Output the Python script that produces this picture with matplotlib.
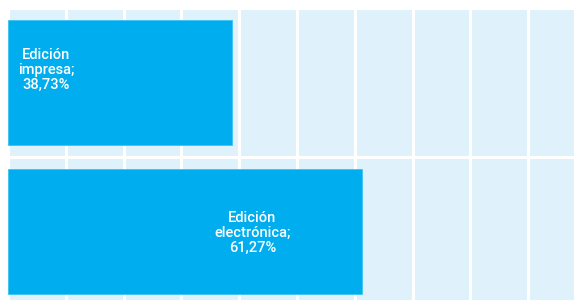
import matplotlib.pyplot as plt

# data
categories = ["Edición\nimpresa", "Edición\nelectrónica"]
values = [38.73, 61.27]
value_labels = ["38,73%", "61,27%"]

# where the labels sit inside each bar (fraction of bar length, row offset)
label_pos = [0.17, 0.69]
label_dy = [-0.085, 0.01]

bar_color = "#00AEEF"
bg_color = "#DFF1FB"

fig = plt.figure(figsize=(5.74, 3.0), dpi=100)
ax = fig.add_axes([8 / 574, -6 / 300, 578 / 574, 298 / 300])
ax.set_facecolor(bg_color)

y = list(range(len(categories)))
ax.barh(y, values, height=0.84, color=bar_color, edgecolor="#3CC2F3",
        linewidth=0.6, zorder=3)

for i, (cat, lab, v) in enumerate(zip(categories, value_labels, values)):
    ax.text(v * label_pos[i], i + label_dy[i], f"{cat};\n{lab}",
            ha="center", va="center", color="white", fontsize=10.5,
            family="Roboto", weight="medium", linespacing=1.1, zorder=4)

ax.set_xlim(0, 100)
ax.set_ylim(-0.5, len(categories) - 0.5)
ax.invert_yaxis()

# white grid lines splitting the background into cells
for gx in range(0, 101, 10):
    ax.axvline(gx, color="white", lw=2.2, zorder=1)
for gy in [-0.5, 0.5, 1.5]:
    ax.axhline(gy, color="white", lw=2.2, zorder=1)

ax.set_xticks([])
ax.set_yticks([])
for s in ax.spines.values():
    s.set_visible(False)

fig.savefig("out.png", dpi=100, facecolor="white")
